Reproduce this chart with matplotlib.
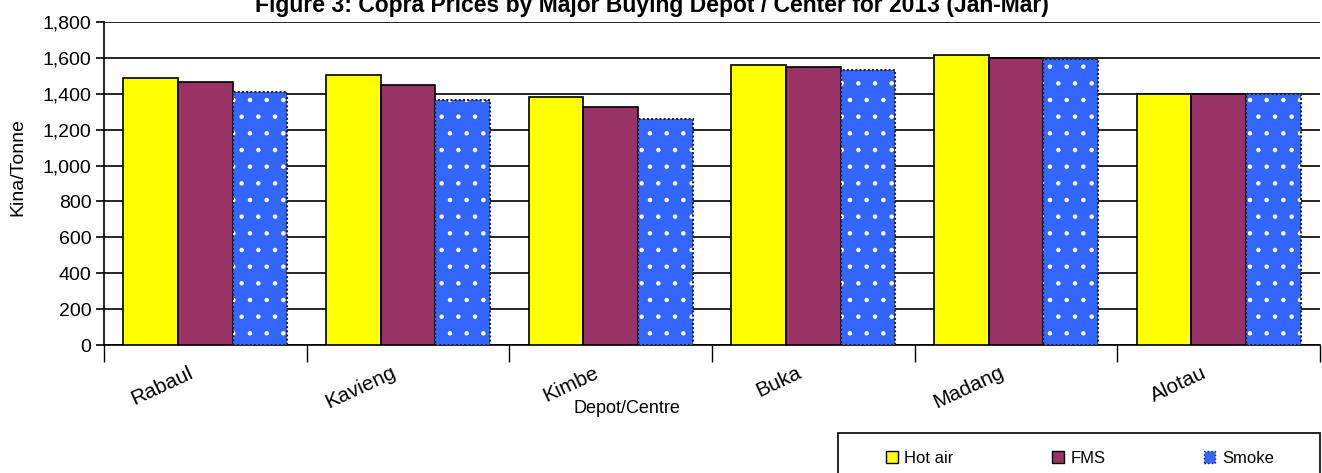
import numpy as np
import matplotlib.pyplot as plt
from matplotlib.patches import Patch, Rectangle
from matplotlib.transforms import ScaledTranslation

plt.rcParams['font.family'] = ['Liberation Sans', 'DejaVu Sans']
plt.rcParams['hatch.linewidth'] = 0.8

depots = ['Rabaul', 'Kavieng', 'Kimbe', 'Buka', 'Madang', 'Alotau']
hot_air = [1490, 1505, 1380, 1560, 1615, 1400]
fms = [1465, 1450, 1325, 1550, 1600, 1400]
smoke = [1410, 1365, 1260, 1535, 1595, 1400]
yticks = np.arange(0, 1801, 200)

fig = plt.figure(figsize=(13.22, 4.73), dpi=100)
ax = fig.add_axes([0.0787, 0.2706, 0.9198, 0.683])

x = np.arange(len(depots))
w = 0.27
ax.bar(x - w, hot_air, w, color='#FFFF00', edgecolor='black', linewidth=1.2, zorder=3)
ax.bar(x, fms, w, color='#993366', edgecolor='black', linewidth=1.2, zorder=3)
ax.bar(x + w, smoke, w, color='#3366FF', edgecolor='white', hatch='.', linewidth=0, zorder=3)
ax.bar(x + w, smoke, w, fill=False, edgecolor='#222222', linestyle=(0, (1, 1)), linewidth=1.5, zorder=4)

ax.set_xlim(-0.5, len(depots) - 0.5)
ax.set_ylim(0, 1800)
ax.set_yticks(yticks)
ax.set_yticklabels([f'{v:,}' for v in yticks])
ax.yaxis.grid(True, color='black', linewidth=1.2, zorder=0)
ax.set_axisbelow(True)

ax.set_xticks(np.arange(len(depots) + 1) - 0.5)
ax.set_xticklabels([])
ax.set_xticks(x, minor=True)
ax.set_xticklabels(depots, minor=True, rotation=25, ha='right', rotation_mode='anchor', fontsize=15)
ax.tick_params(axis='x', which='major', direction='out', length=12, width=1, color='black')
ax.tick_params(axis='x', which='minor', length=0, pad=13)
ax.tick_params(axis='y', direction='out', length=6, width=1.2, labelsize=14, pad=3)
shift = ScaledTranslation(-0.17, 0, fig.dpi_scale_trans)
for lbl in ax.get_xticklabels(minor=True):
    lbl.set_transform(lbl.get_transform() + shift)

for s in ['top', 'right']:
    ax.spines[s].set_visible(False)
ax.spines['left'].set_linewidth(1.2)
ax.spines['bottom'].set_linewidth(1.2)

ax.set_ylabel('Kina/Tonne', fontsize=14)
ax.yaxis.set_label_coords(-0.064, 0.55)
fig.text(0.474, 0.137, 'Depot/Centre', ha='center', va='center', fontsize=13)
fig.text(0.493, 0.975, 'Figure 3: Copra Prices by Major Buying Depot / Center for 2013 (Jan-Mar)',
         ha='center', va='baseline', fontsize=16.5, fontweight='bold')

# legend box
fig.add_artist(Rectangle((838 / 1322, -0.05), 482 / 1322, 0.05 + 40 / 473,
                         transform=fig.transFigure, fill=False, edgecolor='black', linewidth=1.2))
handles = [
    Patch(facecolor='#FFFF00', edgecolor='black', label='Hot air'),
    Patch(facecolor='#993366', edgecolor='black', label='FMS'),
    Patch(facecolor='#3366FF', edgecolor='#222222', linestyle=':', label='Smoke'),
]
leg = fig.legend(handles=handles, loc='center left', bbox_to_anchor=(886 / 1322, 1 - 458 / 473),
                 ncol=3, frameon=False, fontsize=12, handlelength=0.7, handleheight=0.7,
                 handletextpad=0.4, columnspacing=5.9, borderpad=0, borderaxespad=0)

fig.savefig('out.png', dpi=100)
